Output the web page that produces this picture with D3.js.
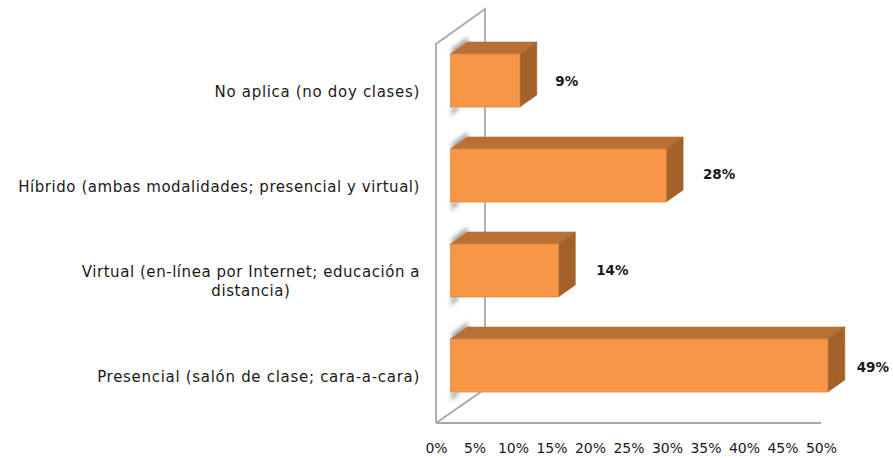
<!DOCTYPE html>
<html><head><meta charset="utf-8">
<script src="https://cdn.jsdelivr.net/npm/d3@7"></script>
<style>
html,body{margin:0;padding:0;background:#fff;overflow:hidden}
svg{display:block}
text{font-family:"DejaVu Sans",sans-serif;fill:#1a1a1a}
</style></head><body>
<svg id="c" width="893" height="458"></svg>
<script>
const categories = ["No aplica (no doy clases)","Híbrido (ambas modalidades; presencial y virtual)","Virtual (en-línea por Internet; educación a distancia)","Presencial (salón de clase; cara-a-cara)"];
const categoryLines = [["No aplica (no doy clases)"],["Híbrido (ambas modalidades; presencial y virtual)"],["Virtual (en-línea por Internet; educación a","distancia)"],["Presencial (salón de clase; cara-a-cara)"]];
const values = [9,28,14,49];
const tickValues = [0,5,10,15,20,25,30,35,40,45,50];

const labelNudge = [47,53,54,45];
const labelRise = [3,1,2,4];
const labelSpacing = [0.68,0.55,0.55,0.7];
const depthX = 17, depthY = 12;
const wall = {x0:436,x1:485,topFront:44,topBack:9,bottom:423,bottomBack:389};

const svg = d3.select("#c");
const x = d3.scaleLinear().domain([0,50]).range([436,821]);
const barX0 = 450.5;
const w = v => x(v)-x(0);
const y = d3.scaleBand().domain(categories).range([33,413]).paddingInner(.442).paddingOuter(.221);

const defs = svg.append("defs");
const blur = defs.append("filter").attr("id","soft").attr("x","-10%").attr("y","-10%").attr("width","120%").attr("height","120%");
blur.append("feGaussianBlur").attr("stdDeviation",0.45);
const sh = defs.append("filter").attr("id","sh").attr("x","-50%").attr("y","-50%").attr("width","200%").attr("height","200%");
sh.append("feGaussianBlur").attr("stdDeviation",2);

// walls
const g = svg.append("g").attr("filter","url(#soft)");
const wallStyle = s => s.attr("fill","none").attr("stroke","#a8a8a8").attr("stroke-width",1.8);
g.append("path").call(wallStyle)
  .attr("d",d3.line()([[wall.x0,wall.bottom],[wall.x0,wall.topFront],[wall.x1,wall.topBack],[wall.x1,wall.bottomBack],[wall.x0,wall.bottom]]));
g.append("path").call(wallStyle)
  .attr("d",d3.line()([[wall.x0,wall.bottom],[x(50),wall.bottom]]));

// bars
const bars = g.selectAll("g.bar").data(categories).join("g").attr("class","bar");
bars.append("path").attr("fill","#8f8f8f").attr("opacity",.8).attr("filter","url(#sh)")
  .attr("d",d=>{const t=y(d),b=t+y.bandwidth();
    return d3.line()([[barX0+1,t-5],[barX0+depthX,t-depthY-5],[barX0+depthX+1,t],[barX0+2,t+2]])+
           d3.line()([[barX0+1,b],[barX0+10,b],[barX0+4,b+6],[barX0+1,b+9]]);});
bars.append("path").attr("fill","#b87034").attr("stroke","#b87034").attr("stroke-width",.6)
  .attr("d",(d,i)=>{const t=y(d),r=barX0+w(values[i]);
    return d3.line()([[barX0,t],[barX0+depthX,t-depthY],[r+depthX,t-depthY],[r,t]])+"Z";});
bars.append("path").attr("fill","#a3622c").attr("stroke","#a3622c").attr("stroke-width",.6)
  .attr("d",(d,i)=>{const t=y(d),b=t+y.bandwidth(),r=barX0+w(values[i]);
    return d3.line()([[r,t],[r+depthX,t-depthY],[r+depthX,b-depthY],[r,b]])+"Z";});
bars.append("rect").attr("x",barX0).attr("y",d=>y(d)).attr("width",(d,i)=>w(values[i])).attr("height",y.bandwidth())
  .attr("fill","#f79646").attr("stroke","#dd8a45").attr("stroke-width",.8);

// category labels
const labels = svg.append("g").attr("font-size",15);
labels.selectAll("text").data(categories).join("text")
  .attr("letter-spacing",(d,i)=>labelSpacing[i])
  .each(function(d,i){
    const lines = categoryLines[i];
    const cy = y(d)+y.bandwidth()/2+10.5;
    const el = d3.select(this);
    el.attr("text-anchor","middle");
    lines.forEach((ln,k)=>{
      el.append("tspan").attr("class","ln").attr("y",cy+(k-(lines.length-1)/2)*19+5.5).text(ln);
    });
    const widest = d3.max(el.selectAll("tspan").nodes(),n=>n.getComputedTextLength());
    el.selectAll("tspan").attr("x",420-widest/2);
  });

// value labels
svg.append("g").attr("font-size",13.5).attr("font-weight","bold").attr("text-anchor","middle")
  .selectAll("text").data(values).join("text")
  .attr("x",(d,i)=>barX0+w(d)+labelNudge[i])
  .attr("y",(d,i)=>y(categories[i])+y.bandwidth()/2+labelRise[i]+2)
  .text(d=>d+"%");

// x axis
const ax = svg.append("g").attr("transform",`translate(0,${wall.bottom})`)
  .call(d3.axisBottom(x).tickValues(tickValues).tickSize(0).tickPadding(20).tickFormat(d=>d+"%"));
ax.select(".domain").remove();
ax.selectAll("text").attr("font-size",14).attr("font-family",'"DejaVu Sans",sans-serif').attr("fill","#1a1a1a");
</script>
</body></html>
